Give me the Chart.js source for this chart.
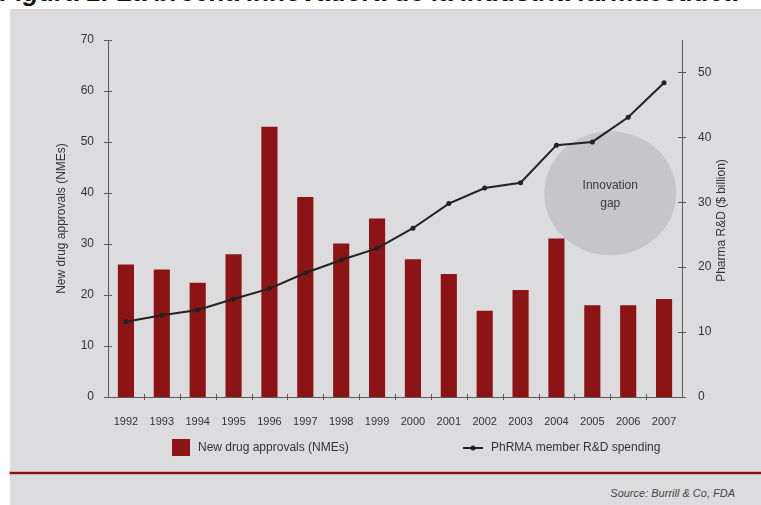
<!DOCTYPE html>
<html>
<head>
<meta charset="utf-8">
<script src="https://cdn.jsdelivr.net/npm/chart.js@4.4.0/dist/chart.umd.min.js"></script>
<style>
  html, body { margin: 0; padding: 0; background: #fff; }
  body { width: 761px; height: 505px; position: relative; overflow: hidden; }
  #title {
    position: absolute; left: 0; top: -21px; white-space: nowrap;
    font: italic bold 26px "Liberation Sans", Arial, sans-serif; color: #111; line-height: 26px;
  }
  #panel {
    position: absolute; left: 10px; top: 9px; right: 0; bottom: 0;
    background: #dcdcde; border-top: 1px solid #e6cfc8;
  }
  #rule {
    position: absolute; left: 10px; right: 0; top: 472px; height: 2px;
    background: #7c1515; box-shadow: 0 0 1px 1px #dfa8a8;
  }
  #source {
    position: absolute; right: 26px; top: 487px;
    font: italic 11px "Liberation Sans", sans-serif; color: #444;
  }
  canvas { position: absolute; left: 0; top: 0; }
</style>
</head>
<body>
<div id="title">Figura 1: La brecha innovadora de la industria farmacéutica</div>
<div id="panel"></div>
<div id="rule"></div>
<div id="source">Source: Burrill &amp; Co, FDA</div>
<canvas id="myChart" width="761" height="505"></canvas>
<script>
var years = ["1992", "1993", "1994", "1995", "1996", "1997", "1998", "1999",
             "2000", "2001", "2002", "2003", "2004", "2005", "2006", "2007"];
var approvals = [26, 25, 22.4, 28, 53, 39.2, 30.1, 35, 27, 24.1, 16.9, 21, 31.1, 18, 18, 19.2];
var spending = [11.6, 12.6, 13.4, 15.1, 16.7, 19.1, 21.1, 22.9, 26, 29.8, 32.2, 33, 38.8, 39.3, 43.1, 48.4];
var leftTicks = [0, 10, 20, 30, 40, 50, 60, 70];
var rightTicks = [0, 10, 20, 30, 40, 50];
var seriesNames = ["New drug approvals (NMEs)", "PhRMA member R&D spending"];
var axisTitles = ["New drug approvals (NMEs)", "Pharma R&D ($ billion)"];

var barColor = "#8c1414";
var lineColor = "#222";
var axisColor = "#5a5a5a";
var textColor = "#333";
var font = '"Liberation Sans", Arial, sans-serif';

// extra drawing: bubble, cross ticks, axis titles, legend
var extras = {
  id: "extras",
  beforeDatasetsDraw: function (chart) {
    var ctx = chart.ctx, x = chart.scales.x, y1 = chart.scales.y1;
    // bubble sits between 2005 and 2006, around $31bn
    var cx = (x.getPixelForValue(13) + x.getPixelForValue(14)) / 2;
    var cy = y1.getPixelForValue(31.4);
    ctx.save();
    ctx.fillStyle = "#c6c6ca";
    ctx.beginPath();
    ctx.ellipse(cx, cy, 66, 62, 0, 0, Math.PI * 2);
    ctx.fill();
    ctx.fillStyle = "#3a3a3a";
    ctx.font = "12px " + font;
    ctx.textAlign = "center";
    ctx.textBaseline = "middle";
    ctx.fillText("Innovation", cx, cy - 7);
    ctx.fillText("gap", cx, cy + 11);
    ctx.restore();
  },
  afterDraw: function (chart) {
    var ctx = chart.ctx, a = chart.chartArea;
    var y = chart.scales.y, y1 = chart.scales.y1, x = chart.scales.x;
    ctx.save();
    ctx.strokeStyle = axisColor;
    ctx.lineWidth = 1;
    ctx.beginPath();
    leftTicks.forEach(function (t) {
      var py = Math.round(y.getPixelForValue(t)) + 0.5;
      ctx.moveTo(a.left - 4, py); ctx.lineTo(a.left + 4, py);
    });
    rightTicks.forEach(function (t) {
      var py = Math.round(y1.getPixelForValue(t)) + 0.5;
      ctx.moveTo(a.right - 4, py); ctx.lineTo(a.right + 4, py);
    });
    for (var i = 1; i < years.length; i++) {
      var px = Math.round((x.getPixelForValue(i - 1) + x.getPixelForValue(i)) / 2) + 0.5;
      ctx.moveTo(px, a.bottom - 3); ctx.lineTo(px, a.bottom + 3);
    }
    ctx.stroke();

    ctx.fillStyle = textColor;
    ctx.font = "12px " + font;
    ctx.textAlign = "center";
    ctx.textBaseline = "middle";
    var mid = (a.top + a.bottom) / 2;
    ctx.translate(62, mid);
    ctx.rotate(-Math.PI / 2);
    ctx.fillText(axisTitles[0], 0, 0);
    ctx.setTransform(1, 0, 0, 1, 0, 0);
    ctx.translate(722, mid + 2);
    ctx.rotate(-Math.PI / 2);
    ctx.fillText(axisTitles[1], 0, 0);
    ctx.setTransform(1, 0, 0, 1, 0, 0);

    // legend
    ctx.fillStyle = barColor;
    ctx.fillRect(172, 439, 18, 17);
    ctx.fillStyle = textColor;
    ctx.font = "12px " + font;
    ctx.textAlign = "left";
    ctx.fillText(seriesNames[0], 198, 448);
    ctx.strokeStyle = lineColor;
    ctx.lineWidth = 2;
    ctx.beginPath();
    ctx.moveTo(463, 448); ctx.lineTo(483, 448);
    ctx.stroke();
    ctx.fillStyle = lineColor;
    ctx.beginPath();
    ctx.arc(473, 448, 2.5, 0, Math.PI * 2);
    ctx.fill();
    ctx.fillStyle = textColor;
    ctx.fillText(seriesNames[1], 491, 448);
    ctx.restore();
  }
};

new Chart("myChart", {
  type: "bar",
  data: {
    labels: years,
    datasets: [{
      type: "line",
      label: seriesNames[1],
      data: spending,
      yAxisID: "y1",
      borderColor: lineColor,
      borderWidth: 2,
      pointRadius: 2.5,
      pointBackgroundColor: lineColor,
      pointBorderWidth: 0,
      tension: 0,
      order: 0
    }, {
      label: seriesNames[0],
      data: approvals,
      yAxisID: "y",
      backgroundColor: barColor,
      categoryPercentage: 0.5,
      barPercentage: 0.9,
      order: 1
    }]
  },
  options: {
    responsive: false,
    animation: false,
    layout: { padding: { top: 40, left: 0, right: 0, bottom: 0 } },
    plugins: { legend: { display: false }, tooltip: { enabled: false } },
    scales: {
      x: {
        grid: { display: false },
        border: { display: true, color: axisColor },
        ticks: { color: textColor, font: { family: font, size: 11 }, padding: 10, maxRotation: 0 },
        afterFit: function (s) { s.height = 108; }
      },
      y: {
        position: "left",
        min: 0, max: 70,
        grid: { display: false },
        border: { display: true, color: axisColor },
        ticks: { stepSize: 10, color: textColor, font: { family: font, size: 12 }, padding: 6 },
        afterFit: function (s) { s.width = 108; }
      },
      y1: {
        position: "right",
        min: 0, max: 55,
        grid: { display: false },
        border: { display: true, color: axisColor },
        afterBuildTicks: function (s) { s.ticks = rightTicks.map(function (v) { return { value: v }; }); },
        ticks: { color: textColor, font: { family: font, size: 12 }, padding: 8 },
        afterFit: function (s) { s.width = 79; }
      }
    }
  },
  plugins: [extras]
});
</script>
</body>
</html>
